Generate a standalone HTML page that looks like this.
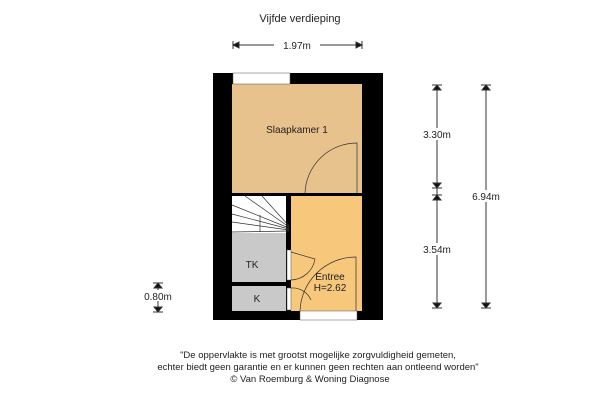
<!DOCTYPE html>
<html><head><style>
body{margin:0;width:600px;height:400px;background:#fff;overflow:hidden}
svg text{font-family:"Liberation Sans",sans-serif;fill:#222}
</style></head><body>
<svg width="600" height="400" viewBox="0 0 600 400">
<text x="300" y="22" font-size="11" text-anchor="middle">Vijfde verdieping</text>
<g stroke="#333" fill="#111">
<line x1="233" y1="45" x2="362" y2="45"/>
<path d="M233 41v8M233 45l6-3v6z M362 41v8M362 45l-6-3v6z"/>
</g>
<rect x="274" y="39" width="46" height="12" fill="#fff"/>
<text x="297" y="49" font-size="10" text-anchor="middle">1.97m</text>
<rect x="213" y="73" width="170" height="247" fill="#000"/>
<rect x="232" y="84" width="130" height="109" fill="#e8c28c"/>
<rect x="291" y="196" width="71" height="115" fill="#f7c77c"/>
<rect x="232" y="196" width="54" height="37" fill="#fff"/>
<rect x="232" y="233" width="54" height="49" fill="#c9c9c9"/>
<rect x="232" y="286" width="54" height="25" fill="#c9c9c9"/>
<rect x="233" y="73" width="57" height="11" fill="#fff" stroke="#555" stroke-width="0.5"/>
<rect x="300" y="311" width="57" height="9" fill="#fff" stroke="#555" stroke-width="0.5"/>
<rect x="287" y="250" width="4" height="30" fill="#fff" stroke="#555" stroke-width="0.5"/>
<rect x="287" y="288" width="4" height="22" fill="#fff" stroke="#555" stroke-width="0.5"/>
<g stroke="#333" fill="none" stroke-width="0.7">
<path d="M305 193 A52 52 0 0 1 357 143 V193"/>
<path d="M291 252 L315 259 A25 25 0 0 1 291 280"/>
<path d="M300 311 A56 56 0 0 1 356 257 V311"/>
<path d="M291 288 A20 20 0 0 1 311 300"/>
<path d="M232 205 L289 228 M232 214 L289 229 M232 222 L289 230 M245 196 L289 227 M262 196 L289 226 M232 232 L289 231"/>
<line x1="260" y1="215" x2="260" y2="232"/>
</g>
<text x="297" y="133" font-size="10" text-anchor="middle">Slaapkamer 1</text>
<text x="252" y="268" font-size="10" text-anchor="middle">TK</text>
<text x="257" y="302" font-size="10" text-anchor="middle">K</text>
<text x="330" y="280" font-size="10" text-anchor="middle">Entree</text>
<text x="330" y="291" font-size="10" text-anchor="middle">H=2.62</text>
<g stroke="#333" fill="#111">
<line x1="437" y1="85" x2="437" y2="308"/>
<line x1="486" y1="85" x2="486" y2="308"/>
<line x1="158" y1="283" x2="158" y2="312"/>
<path d="M432 85h10M437 85l-4 5h8z M432 188h10M437 188l-4-5h8z M432 195h10M437 195l-4 5h8z M432 308h10M437 308l-4-5h8z M481 85h10M486 85l-4 5h8z M481 308h10M486 308l-4-5h8z M153 312h10M158 312l-4-5h8z M153 283h10M158 283l-4 5h8z"/>
</g>
<rect x="412" y="128" width="50" height="12" fill="#fff"/><text x="437" y="138" font-size="10" text-anchor="middle">3.30m</text>
<rect x="412" y="243" width="50" height="12" fill="#fff"/><text x="437" y="253" font-size="10" text-anchor="middle">3.54m</text>
<rect x="462" y="190" width="50" height="12" fill="#fff"/><text x="486" y="200" font-size="10" text-anchor="middle">6.94m</text>
<rect x="136" y="290" width="44" height="11" fill="#fff"/><text x="158" y="300" font-size="10" text-anchor="middle">0.80m</text>
<text x="318" y="358" font-size="9.5" text-anchor="middle">"De oppervlakte is met grootst mogelijke zorgvuldigheid gemeten,</text>
<text x="318" y="370" font-size="9.5" text-anchor="middle">echter biedt geen garantie en er kunnen geen rechten aan ontleend worden"</text>
<text x="310" y="382" font-size="9.5" text-anchor="middle">© Van Roemburg &amp; Woning Diagnose</text>
</svg>
</body></html>
